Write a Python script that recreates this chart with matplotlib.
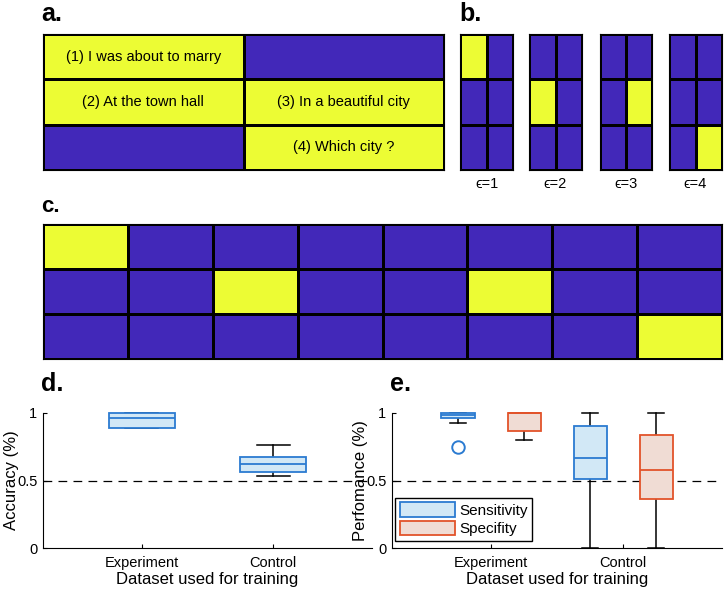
import numpy as np
import matplotlib.pyplot as plt
from matplotlib.patches import Patch
from matplotlib.colors import ListedColormap

plt.rcParams['font.family'] = ['Liberation Sans', 'DejaVu Sans']

BLUE = '#4228b9'
YELLOW = '#ecfc34'

# panel a: which cells are active (1 = yellow)
grid_a = [[1, 0],
          [1, 1],
          [0, 1]]
text_a = [["(1) I was about to marry", ""],
          ["(2) At the town hall", "(3) In a beautiful city"],
          ["", "(4) Which city ?"]]

# panel b: single active cell per window
grids_b = [[[1, 0], [0, 0], [0, 0]],
           [[0, 0], [1, 0], [0, 0]],
           [[0, 0], [0, 1], [0, 0]],
           [[0, 0], [0, 0], [0, 1]]]
eps_labels = ['\u03f5=1', '\u03f5=2', '\u03f5=3', '\u03f5=4']

# panel c
grid_c = [[1, 0, 0, 0, 0, 0, 0, 0],
          [0, 0, 1, 0, 0, 1, 0, 0],
          [0, 0, 0, 0, 0, 0, 0, 1]]

# panel d: accuracy box stats (whislo, q1, med, q3, whishi)
groups = ['Experiment', 'Control']
acc_stats = [[0.89, 0.89, 0.96, 1.00, 1.00],
             [0.53, 0.56, 0.62, 0.675, 0.765]]

# panel e: sensitivity / specificity box stats
sens_stats = [[0.925, 0.965, 0.985, 1.00, 1.00],
              [0.0, 0.51, 0.67, 0.905, 1.00]]
sens_fliers = [[0.75], []]
spec_stats = [[0.80, 0.865, 1.00, 1.00, 1.00],
              [0.0, 0.365, 0.58, 0.835, 1.00]]
spec_fliers = [[], []]

W, H = 725, 594
fig = plt.figure(figsize=(W / 100, H / 100), dpi=100)


def px_axes(x0, y0, x1, y1):
    return fig.add_axes([x0 / W, 1 - y1 / H, (x1 - x0) / W, (y1 - y0) / H])


def draw_grid(ax, g):
    g = np.array(g)
    ax.pcolormesh(g[::-1], cmap=ListedColormap([BLUE, YELLOW]), vmin=0, vmax=1,
                  edgecolors='black', linewidth=0.8)
    ax.set_xlim(0, g.shape[1])
    ax.set_ylim(0, g.shape[0])
    ax.set_xticks([])
    ax.set_yticks([])
    for s in ax.spines.values():
        s.set_linewidth(0.8)


def label(x, y, s, size=18):
    fig.text(x / W, 1 - y / H, s, fontsize=size, fontweight='bold', va='center', ha='left')


# a
ax = px_axes(43, 34, 444, 170)
draw_grid(ax, grid_a)
for r in range(3):
    for c in range(2):
        if text_a[r][c]:
            ax.text(c + 0.5, 2.5 - r, text_a[r][c], ha='center', va='center', fontsize=10.5)
label(41, 14, 'a.')

# b
bx = [(460, 513), (529, 582), (600, 652), (669, 722)]
for (x0, x1), g, lab in zip(bx, grids_b, eps_labels):
    ax = px_axes(x0, 34, x1, 170)
    draw_grid(ax, g)
    fig.text((x0 + x1) / 2 / W, 1 - 184 / H, lab, ha='center', va='center', fontsize=10.5)
label(459, 14, 'b.')

# c
ax = px_axes(43, 224, 722, 359)
draw_grid(ax, grid_c)
label(41, 206, 'c.', size=16)


def to_stats(rows, fliers=None):
    out = []
    for i, (lo, q1, med, q3, hi) in enumerate(rows):
        out.append(dict(whislo=lo, q1=q1, med=med, q3=q3, whishi=hi,
                        fliers=fliers[i] if fliers else []))
    return out


def style_axes(ax, ylabel):
    ax.set_xlim(0.25, 2.75)
    ax.set_ylim(0, 1)
    ax.set_yticks([0, 0.5, 1])
    ax.set_yticklabels(['0', '0.5', '1'])
    ax.set_xticks([1, 2])
    ax.set_xticklabels(groups)
    ax.tick_params(direction='in', length=3, labelsize=10.5, width=0.8)
    ax.tick_params(axis='x', pad=6)
    ax.tick_params(axis='y', pad=4)
    ax.spines['top'].set_visible(False)
    ax.spines['right'].set_visible(False)
    ax.set_xlabel('Dataset used for training', fontsize=12, labelpad=1)
    ax.set_ylabel(ylabel, fontsize=12)
    w = ax.get_position().width * W
    ax.yaxis.set_label_coords(-24 / w, 0.5)
    ax.axhline(0.5, color='black', lw=0.9, ls=(0, (7, 5)), zorder=0)


def draw_box(ax, stats, pos, width, edge, face):
    parts = ax.bxp(stats, positions=pos, widths=width, patch_artist=True,
                   boxprops=dict(facecolor=face, edgecolor=edge, linewidth=1.3),
                   medianprops=dict(color=edge, linewidth=1.3),
                   whiskerprops=dict(color='black', linewidth=1.1),
                   capprops=dict(color='black', linewidth=1.1),
                   flierprops=dict(marker='o', markerfacecolor='none', markeredgecolor=edge,
                                   markersize=9, markeredgewidth=1.4),
                   capwidths=width / 2, manage_ticks=False)
    for b in parts['boxes']:
        b.set_zorder(3)
    for m in parts['medians']:
        m.set_zorder(4)
    for art in parts['whiskers'] + parts['caps']:
        art.set_zorder(2)
    for key in parts:
        for art in parts[key]:
            art.set_clip_on(False)


BL_EDGE, BL_FACE = '#2b7bd1', '#d2e8f6'
RD_EDGE, RD_FACE = '#e2532a', '#f0dcd4'

# d
ax = px_axes(43, 413, 372, 548)
style_axes(ax, 'Accuracy (%)')
draw_box(ax, to_stats(acc_stats), [1, 2], 0.5, BL_EDGE, BL_FACE)
label(41, 384, 'd.')

# e
ax = px_axes(392, 413, 722, 548)
style_axes(ax, 'Perfomance (%)')
draw_box(ax, to_stats(sens_stats, sens_fliers), [0.75, 1.75], 0.25, BL_EDGE, BL_FACE)
draw_box(ax, to_stats(spec_stats, spec_fliers), [1.25, 2.25], 0.25, RD_EDGE, RD_FACE)
handles = [Patch(facecolor=BL_FACE, edgecolor=BL_EDGE, lw=1.3, label='Sensitivity'),
           Patch(facecolor=RD_FACE, edgecolor=RD_EDGE, lw=1.3, label='Specifity')]
leg = ax.legend(handles=handles, loc='lower left', bbox_to_anchor=(0.0, 0.03), fontsize=11,
                fancybox=False, edgecolor='black', framealpha=1, handlelength=3.6,
                handleheight=1.1, handletextpad=0.3, borderpad=0.3, labelspacing=0.2,
                borderaxespad=0.2)
leg.get_frame().set_linewidth(1.0)
label(390, 384, 'e.')

fig.savefig('out.png', dpi=100)
